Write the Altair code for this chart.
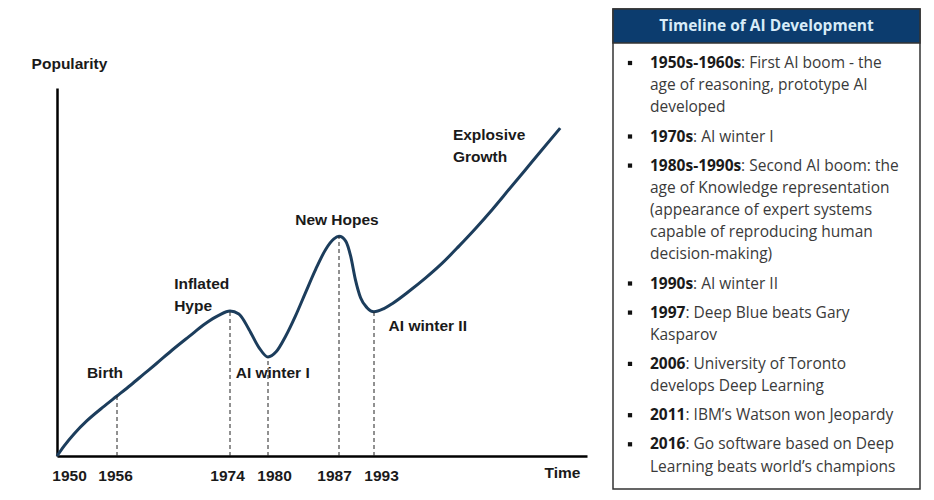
import altair as alt
import pandas as pd

# ---------------- data: popularity curve ----------------
curve_years = [1950, 1950.7, 1951.7, 1953.0, 1954.7, 1956, 1958.2, 1960.3, 1962.2, 1964.8,
               1967.5, 1970.1, 1972.2, 1974, 1975.4, 1977.0, 1978.6, 1980, 1980.8, 1981.75,
               1982.7, 1983.7, 1984.7, 1985.7, 1986.5, 1987, 1988.15, 1989.0, 1989.8, 1990.7,
               1991.8, 1993, 1994.2, 1995.3, 1997.4, 1999.55, 2001.65, 2003.8, 2005.9, 2008.0,
               2010.1, 2012.2, 2014.3, 2016.6]
curve_pop = [0, 2.7, 6.0, 9.6, 13.5, 16.3, 19.3, 22.3, 25.0, 28.8,
             32.5, 36.0, 38.2, 39.4, 38.6, 34.4, 29.4, 26.9, 28.3, 32.6,
             38.0, 44.4, 50.7, 56.2, 59.0, 59.7, 58.4, 54.3, 48.0, 43.0,
             40.3, 39.2, 40.0, 41.4, 44.7, 48.4, 52.4, 57.1, 61.9, 67.0,
             72.4, 77.8, 83.2, 89.1]

event_years = [1950, 1956, 1974, 1980, 1987, 1993]

label_texts = ["Birth", "Inflated\nHype", "AI winter I", "New Hopes", "AI winter II", "Explosive\nGrowth"]
label_years = [1954.8, 1965.1, 1974.9, 1986.8, 1994.85, 2003.0]
label_pops = [22.6, 46.7, 22.6, 64.0, 35.3, 87.2]
label_align = ["center", "left", "left", "center", "left", "left"]

# ---------------- data: timeline panel ----------------
panel_title = "Timeline of AI Development"
bold_terms = ["1950s-1960s", "1970s", "1980s-1990s", "1990s", "1997", "2006", "2011", "2016"]
item_lines = [
    [": First AI boom - the", "age of reasoning, prototype AI", "developed"],
    [": AI winter I"],
    [": Second AI boom: the", "age of Knowledge representation",
     "(appearance of expert systems", "capable of reproducing human", "decision-making)"],
    [": AI winter II"],
    [": Deep Blue beats Gary", "Kasparov"],
    [": University of Toronto", "develops Deep Learning"],
    [": IBM\u2019s Watson won Jeopardy"],
    [": Go software based on Deep", "Learning beats world\u2019s champions"],
]

# ---------------- layout / style constants ----------------
X_BREAKS = [1950, 1956, 1974, 1980, 1987, 1993, 2020]
X_RANGE = [0, 60, 173, 211, 282, 317, 530]
VIEW_W, VIEW_H = 863, 447
Y_TOP = 79
PANEL_X0, PANEL_W, PANEL_H, HEADER_H = 556, 307, 480, 34
FIRST_LINE, PITCH, GAP = 54, 22.2, 6.9
BULLET_X, TEXT_X = 17, 37
PFS = 15.5          # panel font size
LFS = 15.5          # left chart font size
NAVY = "#0c3c6e"
CURVE = "#1c3d5c"
YEAR_LABEL_NUDGE = "{'1950': 12, '1956': -2, '1974': -3, '1980': 6, '1987': -5, '1993': 7}[datum.label]"

# approximate Open Sans Bold advance widths (em) for the bold prefixes
BOLD_W = {"s": 0.49, "-": 0.32}


def bold_width(s):
    return sum(BOLD_W.get(c, 0.572) for c in s) * PFS


# ---------------- dataframes ----------------
curve_df = pd.DataFrame({"year": curve_years, "pop": curve_pop})
lookup = dict(zip(curve_years, curve_pop))
events_df = pd.DataFrame({"year": event_years[1:], "base": 0,
                          "top": [lookup[y] for y in event_years[1:]]})
labels_df = pd.DataFrame({"text": label_texts, "year": label_years,
                          "pop": label_pops, "align": label_align})

rows_bold, rows_norm, bullets = [], [], []
line_i = 0
for item_i, (term, lines) in enumerate(zip(bold_terms, item_lines)):
    for j, ln in enumerate(lines):
        y = FIRST_LINE + line_i * PITCH + item_i * GAP
        if j == 0:
            rows_bold.append({"px": TEXT_X, "py": y, "text": term})
            bullets.append({"px": BULLET_X, "py": y})
            rows_norm.append({"px": TEXT_X + bold_width(term), "py": y, "text": ln})
        else:
            rows_norm.append({"px": TEXT_X, "py": y, "text": ln})
        line_i += 1
bold_df = pd.DataFrame(rows_bold)
norm_df = pd.DataFrame(rows_norm)
bullet_df = pd.DataFrame(bullets)
frame_df = pd.DataFrame({"px": [0], "px2": [PANEL_W], "py": [0], "py2": [PANEL_H]})
header_df = pd.DataFrame({"px": [0], "px2": [PANEL_W], "py": [0], "py2": [HEADER_H],
                          "cx": [PANEL_W / 2], "cy": [HEADER_H / 2], "text": [panel_title]})

# ---------------- left chart ----------------
x_scale = alt.Scale(domain=X_BREAKS, range=X_RANGE, zero=False, nice=False)
y_scale = alt.Scale(domain=[0, 100], range=[VIEW_H, Y_TOP], zero=False, nice=False)
x_axis = alt.Axis(values=event_years, format="d", ticks=False, grid=False,
                  domainColor="#000", domainWidth=2.5, labelFont="Liberation Sans",
                  labelFontSize=LFS, labelFontWeight="bold", labelColor="#1a1a1a",
                  labelPadding=12, labelOffset={"expr": YEAR_LABEL_NUDGE},
                  title="Time", titleFont="Liberation Sans", titleFontSize=LFS,
                  titleFontWeight="bold", titleColor="#1a1a1a", titleX=505, titleY=16,
                  titleAlign="center", titleBaseline="middle", labelFlush=False,
                  labelOverlap=False)
y_axis = alt.Axis(ticks=False, labels=False, grid=False, domainColor="#000",
                  domainWidth=2.5, title="Popularity", titleAngle=0,
                  titleFont="Liberation Sans", titleFontSize=LFS, titleFontWeight="bold",
                  titleColor="#1a1a1a", titleX=12, titleY=54, titleAlign="center",
                  titleBaseline="middle")


def X(f):
    return alt.X(f"{f}:Q", scale=x_scale, axis=x_axis)


def Y(f):
    return alt.Y(f"{f}:Q", scale=y_scale, axis=y_axis)


line = alt.Chart(curve_df).mark_line(color=CURVE, strokeWidth=3, interpolate="monotone").encode(
    x=X("year"), y=Y("pop"))
rules = alt.Chart(events_df).mark_rule(color="#222", strokeWidth=1, strokeDash=[4, 3]).encode(
    x=X("year"), y=Y("base"), y2="top")
lab_c = alt.Chart(labels_df).transform_filter("datum.align == 'center'").mark_text(
    align="center", baseline="middle", font="Liberation Sans", fontSize=LFS,
    fontWeight="bold", color="#1a1a1a", lineBreak="\n", lineHeight=22).encode(
    x=X("year"), y=Y("pop"), text="text:N")
lab_l = alt.Chart(labels_df).transform_filter("datum.align == 'left'").mark_text(
    align="left", baseline="middle", font="Liberation Sans", fontSize=LFS,
    fontWeight="bold", color="#1a1a1a", lineBreak="\n", lineHeight=22).encode(
    x=X("year"), y=Y("pop"), text="text:N")
left = alt.layer(line, rules, lab_c, lab_l)

# ---------------- right panel ----------------
px_scale = alt.Scale(domain=[0, PANEL_W], range=[PANEL_X0, PANEL_X0 + PANEL_W], zero=False, nice=False)
py_scale = alt.Scale(domain=[0, PANEL_H], range=[0, PANEL_H], zero=False, nice=False)


def PX(f):
    return alt.X(f"{f}:Q", scale=px_scale, axis=None)


def PY(f):
    return alt.Y(f"{f}:Q", scale=py_scale, axis=None)


frame = alt.Chart(frame_df).mark_rect(fillOpacity=0, stroke="#333", strokeWidth=1.5).encode(
    x=PX("px"), x2="px2", y=PY("py"), y2="py2")
header = alt.Chart(header_df).mark_rect(fill=NAVY, stroke="#333", strokeWidth=1.5).encode(
    x=PX("px"), x2="px2", y=PY("py"), y2="py2")
header_txt = alt.Chart(header_df).mark_text(
    align="center", baseline="middle", font="Open Sans", fontSize=PFS, fontWeight="bold",
    color="#d8ecf8").encode(x=PX("cx"), y=PY("cy"), text="text:N")
bul = alt.Chart(bullet_df).mark_square(size=18, color="#111", opacity=1).encode(
    x=PX("px"), y=PY("py"))
btxt = alt.Chart(bold_df).mark_text(
    align="left", baseline="middle", font="Open Sans", fontSize=PFS, fontWeight="bold",
    color="#1a1a1a").encode(x=PX("px"), y=PY("py"), text="text:N")
ntxt = alt.Chart(norm_df).mark_text(
    align="left", baseline="middle", font="Open Sans", fontSize=PFS,
    color="#3a3a3a").encode(x=PX("px"), y=PY("py"), text="text:N")
panel = alt.layer(frame, header, header_txt, bul, btxt, ntxt)

chart = alt.layer(left, panel).resolve_scale(x="independent", y="independent").properties(
    width=VIEW_W, height=VIEW_H,
    padding={"left": 23, "top": 0, "right": 5, "bottom": 5},
    background="white",
).configure_view(stroke=None)

chart.save("out.html", embed_options={"renderer": "svg", "actions": False})
